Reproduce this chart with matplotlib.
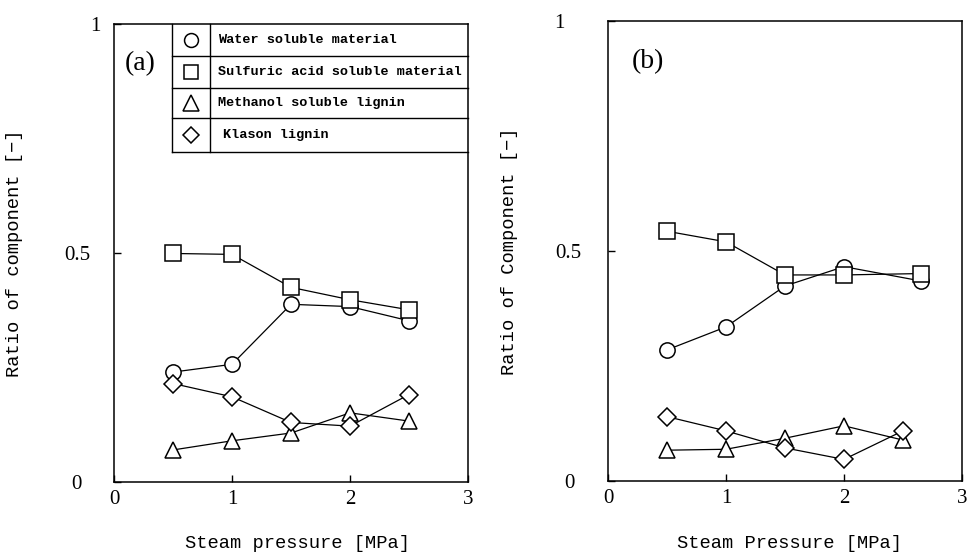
import matplotlib
matplotlib.use("Agg")
import matplotlib.pyplot as plt
from matplotlib.lines import Line2D

# ---------------- data ----------------
x_ticks = [0, 1, 2, 3]
x_tick_labels = ["0", "1", "2", "3"]
y_ticks = [0, 0.5, 1]
y_tick_labels = ["0", "0.5", "1"]

series_names = ["Water soluble material", "Sulfuric acid soluble material",
                "Methanol soluble lignin", "Klason lignin"]

# panel (a)
a_pressure = [0.5, 1.0, 1.5, 2.0, 2.5]
a_water = [0.240, 0.257, 0.388, 0.383, 0.352]
a_sulfuric = [0.499, 0.497, 0.425, 0.398, 0.376]
a_methanol = [0.070, 0.090, 0.107, 0.151, 0.133]
a_klason = [0.215, 0.186, 0.130, 0.122, 0.191]

# panel (b)
b_pressure = [0.5, 1.0, 1.5, 2.0, 2.65]
b_pressure_tri_dia = [0.5, 1.0, 1.5, 2.0, 2.5]
b_water = [0.285, 0.335, 0.424, 0.466, 0.435]
b_sulfuric = [0.543, 0.520, 0.448, 0.448, 0.451]
b_methanol = [0.067, 0.069, 0.093, 0.120, 0.089]
b_klason = [0.140, 0.109, 0.072, 0.047, 0.109]

# ---------------- style ----------------
MONO = ["Liberation Mono", "DejaVu Sans Mono"]
SERIF = ["Liberation Serif", "DejaVu Serif"]

markers = ["o", "s", "^", "D"]
msizes = [11, 11, 11, 9]

fig = plt.figure(figsize=(9.67, 5.52), dpi=100)
ax_a = fig.add_axes([0.1179, 0.1268, 0.3661, 0.8297])
ax_b = fig.add_axes([0.6287, 0.1286, 0.3661, 0.8333])


def style_axes(ax, ylabel, xlabel, ypads):
    ax.set_xlim(0, 3)
    ax.set_ylim(0, 1)
    ax.set_xticks(x_ticks, x_tick_labels, fontfamily=SERIF, fontsize=15)
    ax.set_yticks(y_ticks, y_tick_labels, fontfamily=SERIF, fontsize=15)
    ax.tick_params(direction="in", length=5, width=1, pad=6,
                   top=False, right=False)
    for tick, p in zip(ax.yaxis.get_major_ticks(), ypads):
        tick.set_pad(p)
    for s in ax.spines.values():
        s.set_linewidth(1.1)
        s.set_color("black")
    ax.set_ylabel(ylabel, fontfamily=MONO, fontsize=13.5, labelpad=0)
    ax.set_xlabel(xlabel, fontfamily=MONO, fontsize=13.5, labelpad=4)


def draw_series(ax, xs_list, ys_list):
    for xs, ys, m, ms in zip(xs_list, ys_list, markers, msizes):
        ax.plot(xs, ys, color="black", linewidth=0.9, marker=m,
                markersize=ms, markerfacecolor="white",
                markeredgecolor="black", markeredgewidth=1.1)


draw_series(ax_a, [a_pressure] * 4, [a_water, a_sulfuric, a_methanol, a_klason])
draw_series(ax_b, [b_pressure, b_pressure, b_pressure_tri_dia, b_pressure_tri_dia],
            [b_water, b_sulfuric, b_methanol, b_klason])

style_axes(ax_a, "Ratio of component [\u2212]", "Steam pressure [MPa]", [23, 17, 10])
style_axes(ax_b, "Ratio of Component [\u2212]", "Steam Pressure [MPa]", [24, 19, 31])

ax_a.yaxis.set_label_coords(-0.258, 0.5)
ax_b.yaxis.set_label_coords(-0.254, 0.5)
ax_a.xaxis.set_label_coords(0.517, -0.115)
ax_b.xaxis.set_label_coords(0.514, -0.117)

ax_a.text(0.073, 0.913, "(a)", transform=ax_a.transAxes, fontfamily=SERIF,
          fontsize=20, ha="center", va="center")
ax_b.text(0.113, 0.911, "(b)", transform=ax_b.transAxes, fontfamily=SERIF,
          fontsize=20, ha="center", va="center")

# ---------------- table-style legend in panel (a) ----------------
lx0, lx_div, lx1 = 0.164, 0.271, 1.0
row_edges = [1.0, 0.930, 0.860, 0.795, 0.7205]
tr = ax_a.transAxes
lw = 1.0
ax_a.add_line(Line2D([lx0, lx0], [row_edges[0], row_edges[-1]], transform=tr,
                     color="black", lw=lw, clip_on=False))
ax_a.add_line(Line2D([lx_div, lx_div], [row_edges[0], row_edges[-1]], transform=tr,
                     color="black", lw=lw, clip_on=False))
for ye in row_edges[1:]:
    ax_a.add_line(Line2D([lx0, lx1], [ye, ye], transform=tr, color="black",
                         lw=lw, clip_on=False))

leg_ms = [10, 9.5, 11, 8]
text_x = [0.294, 0.294, 0.294, 0.308]
for i, (name, m, ms) in enumerate(zip(series_names, markers, leg_ms)):
    yc = (row_edges[i] + row_edges[i + 1]) / 2
    ax_a.plot([0.2175], [yc], transform=tr, marker=m, markersize=ms,
              markerfacecolor="white", markeredgecolor="black",
              markeredgewidth=1.1, linestyle="none", clip_on=False)
    ax_a.text(text_x[i], yc, name, transform=tr, fontfamily=MONO,
              fontweight="bold", fontsize=9.7, ha="left", va="center")

fig.savefig("out.png", dpi=100, facecolor="white")
